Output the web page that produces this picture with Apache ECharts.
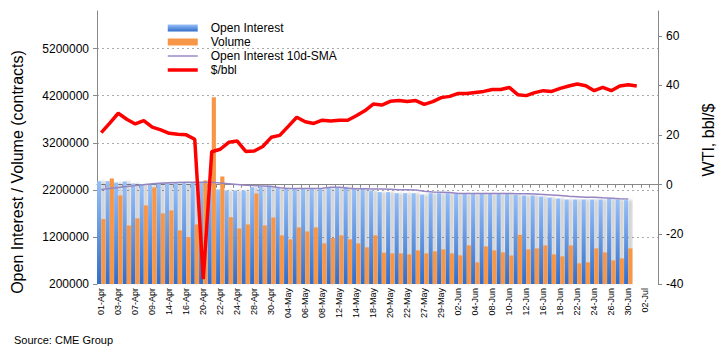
<!DOCTYPE html>
<html>
<head>
<meta charset="utf-8">
<script src="https://cdn.jsdelivr.net/npm/echarts@6/dist/echarts.min.js"></script>
<style>
html,body{margin:0;padding:0;background:#fff;}
#chart{width:725px;height:355px;}
</style>
</head>
<body>
<div id="chart"></div>
<script>
const categories = ['01-Apr','02-Apr','03-Apr','06-Apr','07-Apr','08-Apr','09-Apr','13-Apr','14-Apr','15-Apr','16-Apr','17-Apr','20-Apr','21-Apr','22-Apr','23-Apr','24-Apr','27-Apr','28-Apr','29-Apr','30-Apr',
'01-May','04-May','05-May','06-May','07-May','08-May','11-May','12-May','13-May','14-May','15-May','18-May','19-May','20-May','21-May','22-May','26-May','27-May','28-May','29-May',
'01-Jun','02-Jun','03-Jun','04-Jun','05-Jun','08-Jun','09-Jun','10-Jun','11-Jun','12-Jun','15-Jun','16-Jun','17-Jun','18-Jun','19-Jun','22-Jun','23-Jun','24-Jun','25-Jun','26-Jun','29-Jun','30-Jun',
'01-Jul','02-Jul','06-Jul'];

const openInterest = [2386000,2386000,2357000,2379000,2336000,2322000,2308000,2350000,2350000,2350000,2350000,2357000,2357000,2357000,2209000,2188000,2188000,
2187000,2258000,2272000,2293000,2237000,2223000,2223000,2223000,2223000,2223000,2251000,2258000,2265000,2223000,2223000,2187000,2152000,
2152000,2130000,2130000,2130000,2102000,2130000,2130000,2130000,2116000,2116000,2116000,2116000,2116000,2116000,2116000,2095000,2081000,
2081000,2059000,2038000,2017000,1996000,1996000,1996000,1996000,1996000,2010000,1996000,1982000];

const volume = [1580000,2442000,2082000,1445000,1594000,1869000,2251000,1700000,1763000,1339000,1198000,1466000,2400000,4167000,2485000,1620000,1380000,
1466000,2123000,1445000,1614000,1233000,1148000,1402000,1317000,1402000,1063000,1176000,1233000,1148000,1063000,978000,1233000,865000,
851000,851000,829000,914000,851000,893000,935000,851000,808000,1020000,660000,999000,914000,872000,808000,1246000,935000,
957000,1020000,829000,787000,1020000,638000,660000,957000,872000,702000,744000,957000];

const oiSma10 = [2210000,2230000,2250000,2270000,2290000,2310000,2330000,2340000,2350000,2355000,2360000,2360000,2360000,2360000,2345000,2330000,2315000,
2300000,2290000,2280000,2270000,2245000,2230000,2230000,2230000,2230000,2235000,2255000,2255000,2235000,2225000,2225000,2220000,2220000,
2215000,2200000,2200000,2195000,2170000,2155000,2150000,2145000,2125000,2125000,2125000,2124000,2123000,2122000,2121000,2120000,2118000,
2110000,2100000,2090000,2080000,2065000,2055000,2045000,2045000,2030000,2020000,2010000,2005000];

const wtiPrice = [21.0,24.8,28.8,26.4,24.5,25.8,23.2,22.1,20.7,20.3,20.1,18.3,-38.0,13.3,14.3,17.1,17.6,
13.4,13.6,15.4,19.1,19.9,23.5,27.2,25.4,24.7,26.0,25.7,26.0,26.0,27.8,29.8,32.5,32.1,
33.6,33.9,33.5,33.9,32.4,33.5,35.1,35.6,36.8,36.8,37.2,37.6,38.4,38.4,39.2,36.3,35.9,
37.1,37.9,37.6,38.8,39.8,40.6,39.9,37.9,39.2,37.9,39.8,40.3,39.8];

const leftTicks = {min: 200000, max: 6000000, interval: 1000000};
const rightTicks = {min: -40, max: 70, interval: 20};

const FONT = 'Liberation Sans, Arial, sans-serif';
const chart = echarts.init(document.getElementById('chart'), null, {renderer: 'svg'});

const blueGrad = new echarts.graphic.LinearGradient(0, 0, 0, 1, [
  {offset: 0, color: '#98c0f8'},
  {offset: 1, color: '#306dca'}
]);

chart.setOption({
  animation: false,
  backgroundColor: '#fff',
  textStyle: {fontFamily: FONT},
  grid: {left: 97, right: 67, top: 11, bottom: 71},
  legend: {
    orient: 'vertical',
    left: 166, top: 21,
    itemWidth: 30, itemHeight: 7, itemGap: 0,
    padding: 0,
    textStyle: {fontSize: 12, lineHeight: 14, color: '#000', fontFamily: FONT, padding: [0, 0, 0, 8]},
    data: [
      {name: 'Open Interest', icon: 'rect'},
      {name: 'Volume', icon: 'rect'},
      {name: 'Open Interest 10d-SMA', itemStyle: {opacity: 0}, lineStyle: {width: 2, color: '#b4a7d6'}},
      {name: '$/bbl', itemStyle: {opacity: 0}, lineStyle: {width: 3.5, color: '#ff0000'}}
    ]
  },
  xAxis: {
    type: 'category',
    data: categories,
    boundaryGap: true,
    axisLine: {show: true, lineStyle: {color: '#888', width: 1}},
    axisTick: {show: true, interval: 0, length: 3, lineStyle: {color: '#888'}},
    axisLabel: {interval: 1, rotate: 90, fontSize: 9, color: '#000', margin: 4, fontFamily: FONT},
    splitLine: {show: false}
  },
  yAxis: [{
    type: 'value',
    min: leftTicks.min, max: leftTicks.max, interval: leftTicks.interval,
    axisLine: {show: true, lineStyle: {color: '#888', width: 1}},
    axisTick: {show: true, length: 4, lineStyle: {color: '#888'}},
    axisLabel: {fontSize: 12, color: '#000', margin: 8, showMaxLabel: false, formatter: v => String(v), fontFamily: FONT},
    splitLine: {show: true, showMinLine: false, showMaxLine: false, lineStyle: {color: '#aaa', type: [2, 3], width: 1}}
  }, {
    type: 'value',
    position: 'right',
    min: rightTicks.min, max: rightTicks.max, interval: rightTicks.interval,
    axisLine: {show: true, lineStyle: {color: '#888', width: 1}},
    axisTick: {show: true, length: 4, lineStyle: {color: '#888'}},
    axisLabel: {fontSize: 12, color: '#000', margin: 8, showMaxLabel: false, fontFamily: FONT},
    splitLine: {show: false}
  }],
  series: [{
    name: 'Open Interest',
    type: 'bar',
    data: openInterest,
    barGap: '0%',
    barCategoryGap: '2%',
    itemStyle: {color: blueGrad, shadowColor: 'rgba(0,0,0,0.2)', shadowBlur: 3, shadowOffsetX: 4},
    z: 2
  }, {
    name: 'Volume',
    type: 'bar',
    data: volume,
    itemStyle: {color: '#f79646'},
    z: 3
  }, {
    name: 'Open Interest 10d-SMA',
    type: 'line',
    data: oiSma10,
    symbol: 'none',
    lineStyle: {color: '#9585c2', width: 1.5},
    itemStyle: {color: '#b3a6d6'},
    z: 4
  }, {
    name: '$/bbl',
    type: 'line',
    yAxisIndex: 1,
    data: wtiPrice,
    symbol: 'none',
    lineStyle: {color: '#ff0000', width: 3.5},
    itemStyle: {color: '#ff0000'},
    z: 5
  }],
  graphic: [{
    type: 'text',
    x: 17, y: 172, rotation: Math.PI / 2,
    style: {text: 'Open Interest / Volume (contracts)', fontSize: 16, fontFamily: FONT, fill: '#000', textAlign: 'center', textVerticalAlign: 'middle'}
  }, {
    type: 'text',
    x: 708, y: 140, rotation: Math.PI / 2,
    style: {text: 'WTI, bbl/$', fontSize: 16, fontFamily: FONT, fill: '#000', textAlign: 'center', textVerticalAlign: 'middle'}
  }, {
    type: 'text',
    x: 14, y: 340,
    style: {text: 'Source: CME Group', fontSize: 11, fontFamily: FONT, fill: '#000', textAlign: 'left', textVerticalAlign: 'middle'}
  }]
});
</script>
</body>
</html>
